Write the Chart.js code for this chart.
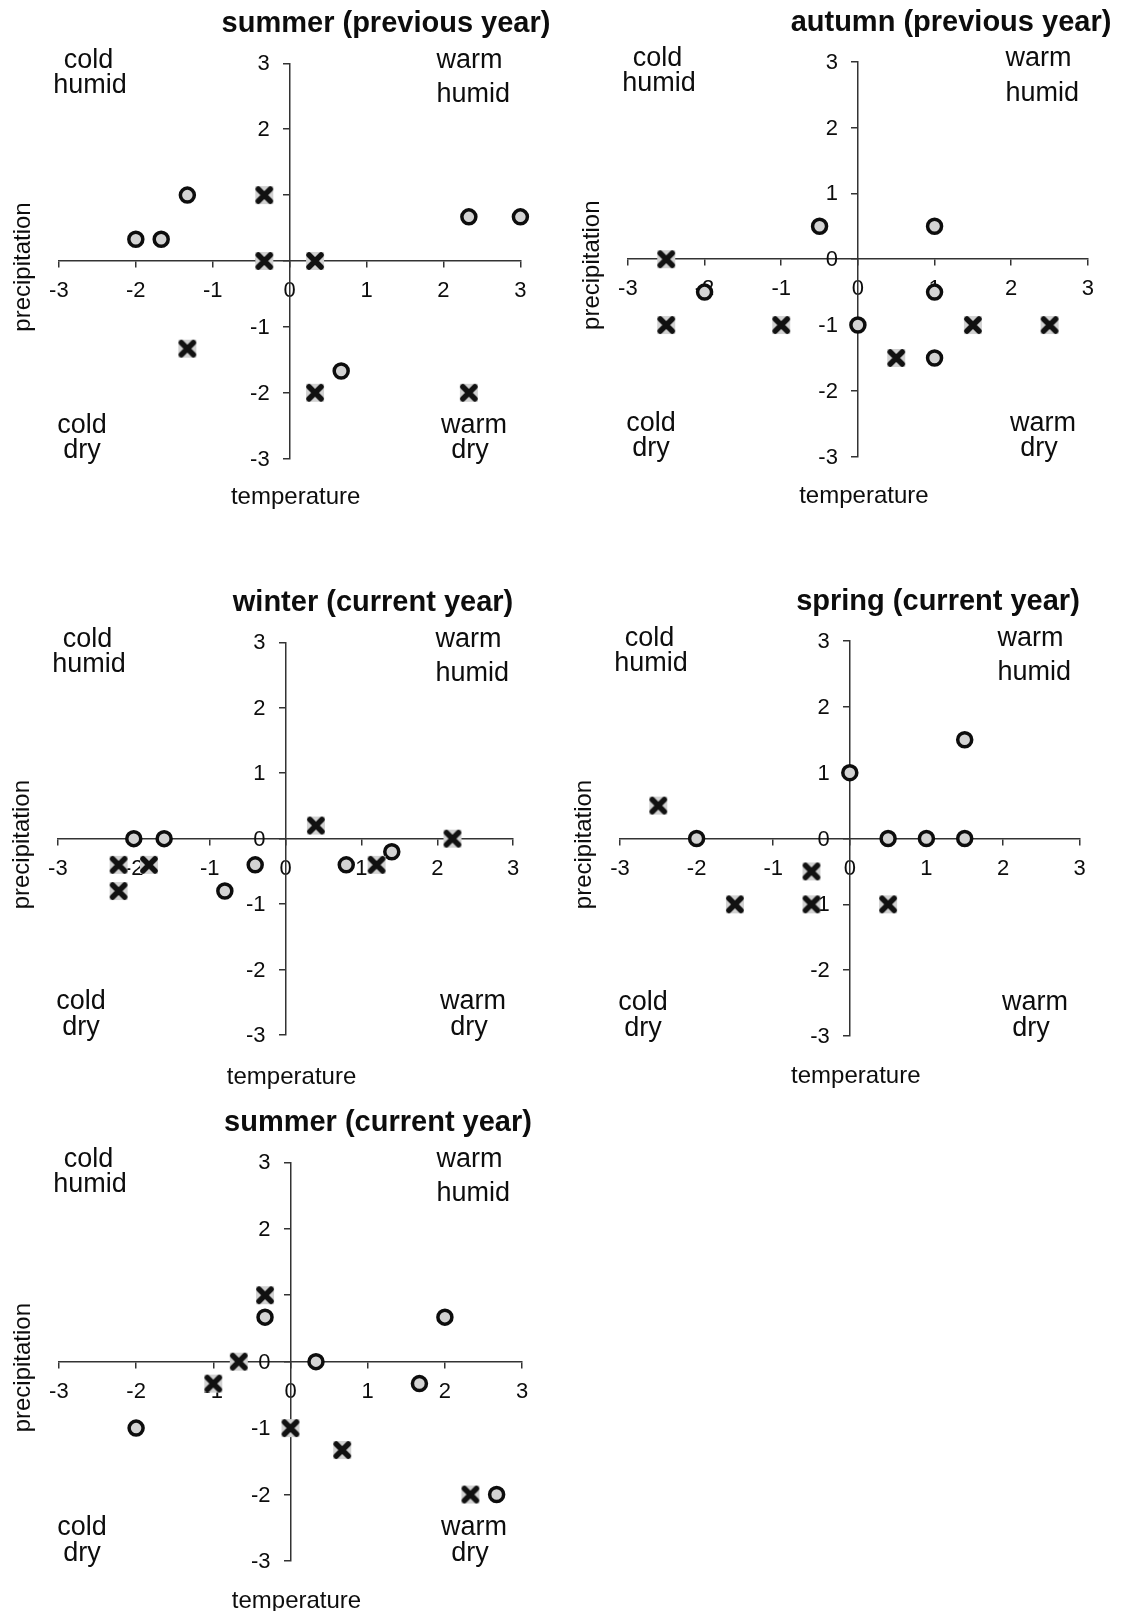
<!DOCTYPE html>
<html>
<head>
<meta charset="utf-8">
<title>Seasonal temperature and precipitation anomalies</title>
<script src="https://cdn.jsdelivr.net/npm/chart.js@4.4.1/dist/chart.umd.min.js"></script>
<style>
  html, body { margin: 0; padding: 0; background: #ffffff; }
  #page { position: relative; width: 1121px; height: 1611px; overflow: hidden; background: #ffffff; }
  .panel { position: absolute; }
</style>
</head>
<body>
<div id="page">
  <div class="panel" style="left:0px;top:0px;width:560px;height:540px"><canvas id="p1"></canvas></div>
  <div class="panel" style="left:560px;top:0px;width:561px;height:540px"><canvas id="p2"></canvas></div>
  <div class="panel" style="left:0px;top:580px;width:560px;height:540px"><canvas id="p3"></canvas></div>
  <div class="panel" style="left:560px;top:580px;width:561px;height:540px"><canvas id="p4"></canvas></div>
  <div class="panel" style="left:0px;top:1100px;width:560px;height:511px"><canvas id="p5"></canvas></div>
</div>
<script>
// Panel titles
const panelTitles = [
  'summer (previous year)',
  'autumn (previous year)',
  'winter (current year)',
  'spring (current year)',
  'summer (current year)'
];

// Axis ticks (standardised anomalies)
const axisTicks = [-3, -2, -1, 0, 1, 2, 3];

// [temperature, precipitation] pairs, circle series
const summerPrevCircles = [[-1.33, 1], [-2, 0.33], [-1.67, 0.33], [2.33, 0.67], [3, 0.67], [0.67, -1.67], [-0.33, 0]];
const autumnPrevCircles = [[-2, -0.5], [-0.5, 0.5], [1, 0.5], [1, -0.5], [0, -1], [1, -1.5]];
const winterCurCircles  = [[-2, 0], [-1.6, 0], [-0.4, -0.4], [-0.8, -0.8], [0.8, -0.4], [1.4, -0.2]];
const springCurCircles  = [[0, 1], [1.5, 1.5], [-2, 0], [0.5, 0], [1, 0], [1.5, 0]];
const summerCurCircles  = [[-0.33, 0.67], [2, 0.67], [0.33, 0], [1.67, -0.33], [-2, -1], [2.67, -2]];

// [temperature, precipitation] pairs, cross series
const summerPrevCrosses = [[-0.33, 1], [-0.33, 0], [0.33, 0], [-1.33, -1.33], [0.33, -2], [2.33, -2]];
const autumnPrevCrosses = [[-2.5, 0], [-2.5, -1], [-1, -1], [0.5, -1.5], [1.5, -1], [2.5, -1]];
const winterCurCrosses  = [[-2.2, -0.4], [-1.8, -0.4], [-2.2, -0.8], [0.4, 0.2], [1.2, -0.4], [2.2, 0]];
const springCurCrosses  = [[-2.5, 0.5], [-1.5, -1], [-0.5, -0.5], [-0.5, -1], [0.5, -1]];
const summerCurCrosses  = [[-0.33, 1], [-0.67, 0], [-1, -0.33], [0, -1], [0.67, -1.33], [2.33, -2]];

const circleSeries = [summerPrevCircles, autumnPrevCircles, winterCurCircles, springCurCircles, summerCurCircles];
const crossSeries  = [summerPrevCrosses, autumnPrevCrosses, winterCurCrosses, springCurCrosses, summerCurCrosses];

// Plot-area padding inside each panel canvas, title centre and axis-name offset
const panelLayout = [
  { id: 'p1', pad: { left: 58.9, right: 39.6, top: 63.3, bottom: 81.3 }, titleX: 386, nameGap: 45 },
  { id: 'p2', pad: { left: 67.9, right: 33.1, top: 61.7, bottom: 83.3 }, titleX: 391, nameGap: 46 },
  { id: 'p3', pad: { left: 57.9, right: 46.8, top: 62.3, bottom: 85 },   titleX: 373, nameGap: 49 },
  { id: 'p4', pad: { left: 60,   right: 41.4, top: 61,   bottom: 84 },   titleX: 378, nameGap: 47 },
  { id: 'p5', pad: { left: 58.9, right: 37.9, top: 62.3, bottom: 50 },   titleX: 378, nameGap: 47 }
];

const FONT = '"Liberation Sans", Arial, Helvetica, sans-serif';
const TICK_FONT_SIZE = 22;
const INK = '#0d0d0d';
const AXIS = '#333333';

// Bold X on a light grey square, used as the cross marker
function makeCrossMarker() {
  const c = document.createElement('canvas');
  c.width = 22; c.height = 22;
  const g = c.getContext('2d');
  g.fillStyle = '#d2d2d2';
  g.fillRect(2, 2, 18, 18);
  g.strokeStyle = '#111111';
  g.lineWidth = 5.5;
  g.lineCap = 'round';
  g.beginPath();
  g.moveTo(5, 5); g.lineTo(17, 17);
  g.moveTo(17, 5); g.lineTo(5, 17);
  g.stroke();
  return c;
}
const crossMarker = makeCrossMarker();

const toPoints = pairs => pairs.map(p => ({ x: p[0], y: p[1] }));

// Title, quadrant names, axis names and precipitation tick labels
const panelText = {
  id: 'panelText',
  beforeDatasetsDraw(chart, args, opts) {
    const ctx = chart.ctx;
    const a = chart.chartArea;
    const xs = chart.scales.x, ys = chart.scales.y;
    const x0 = xs.getPixelForValue(0), y0 = ys.getPixelForValue(0);
    ctx.save();
    ctx.fillStyle = INK;

    // precipitation tick labels, to the left of the vertical axis
    ctx.font = TICK_FONT_SIZE + 'px ' + FONT;
    ctx.textAlign = 'right';
    ctx.textBaseline = 'middle';
    ys.ticks.forEach(t => {
      ctx.fillText(String(t.value), x0 - 20, ys.getPixelForValue(t.value) + 1);
    });

    ctx.textBaseline = 'alphabetic';
    ctx.font = 'bold 29px ' + FONT;
    ctx.textAlign = 'center';
    ctx.fillText(opts.title, opts.titleX, a.top - 31);

    ctx.font = '27px ' + FONT;
    ctx.textAlign = 'center';
    ctx.fillText('cold', a.left + 29.5, a.top + 4.5);
    ctx.fillText('humid', a.left + 31, a.top + 29.5);
    ctx.fillText('cold', a.left + 23, a.bottom - 26);
    ctx.fillText('dry', a.left + 23, a.bottom - 0.5);
    ctx.fillText('warm', a.left + 415, a.bottom - 26);
    ctx.fillText('dry', a.left + 411, a.bottom - 0.5);
    ctx.textAlign = 'left';
    ctx.fillText('warm', a.left + 377.5, a.top + 4.5);
    ctx.fillText('humid', a.left + 377.5, a.top + 39);

    ctx.font = '24px ' + FONT;
    ctx.textAlign = 'center';
    ctx.fillText('temperature', x0 + 6, a.bottom + opts.nameGap);
    ctx.save();
    ctx.translate(a.left - 36, y0 + 6);
    ctx.rotate(-Math.PI / 2);
    ctx.textBaseline = 'middle';
    ctx.fillText('precipitation', 0, 0);
    ctx.restore();
    ctx.restore();
  }
};

function axisOptions(cross, showLabels) {
  return {
    type: 'linear',
    min: axisTicks[0],
    max: axisTicks[axisTicks.length - 1],
    position: cross,
    afterBuildTicks: scale => { scale.ticks = axisTicks.map(v => ({ value: v })); },
    ticks: {
      display: showLabels,
      color: INK,
      font: { family: FONT, size: TICK_FONT_SIZE },
      padding: 11,
      maxRotation: 0,
      autoSkip: false
    },
    grid: {
      display: true,
      drawOnChartArea: false,
      drawTicks: true,
      tickLength: 6,
      color: AXIS,
      lineWidth: 1.5
    },
    border: { display: true, color: AXIS, width: 1.5 }
  };
}

panelLayout.forEach((p, i) => {
  new Chart(document.getElementById(p.id), {
    type: 'scatter',
    data: {
      datasets: [
        {
          label: 'crosses',
          data: toPoints(crossSeries[i]),
          pointStyle: crossMarker,
          pointRadius: 9,
          pointHoverRadius: 9,
          clip: false
        },
        {
          label: 'circles',
          data: toPoints(circleSeries[i]),
          pointStyle: 'circle',
          pointRadius: 7,
          pointHoverRadius: 7,
          pointBorderWidth: 3.5,
          pointBackgroundColor: '#d3d3d3',
          pointBorderColor: INK,
          clip: false
        }
      ]
    },
    options: {
      responsive: true,
      maintainAspectRatio: false,
      animation: false,
      events: [],
      layout: { padding: p.pad },
      scales: {
        x: axisOptions({ y: 0 }, true),
        y: axisOptions({ x: 0 }, false)
      },
      plugins: {
        legend: { display: false },
        title: { display: false },
        tooltip: { enabled: false },
        panelText: { title: panelTitles[i], titleX: p.titleX, nameGap: p.nameGap }
      }
    },
    plugins: [panelText]
  });
});
</script>
</body>
</html>
